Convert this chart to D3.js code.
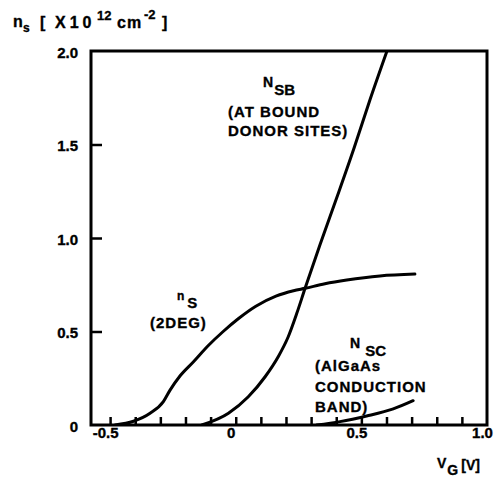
<!DOCTYPE html>
<html>
<head>
<meta charset="utf-8">
<script src="https://cdn.jsdelivr.net/npm/d3@7"></script>
<style>
  body { margin: 0; background: #fff; }
  svg { display: block; }
  text { font-family: "Liberation Sans", Arial, sans-serif; font-weight: bold; fill: #000; stroke: #000; stroke-width: 0.35; }
</style>
</head>
<body>
<div id="chart"></div>
<script>
// values: [V_G in volts, n in 1e12 cm^-2]
const ns2deg = [
  [-0.480, 0], [-0.407, 0.02], [-0.341, 0.063], [-0.288, 0.125], [-0.262, 0.185],
  [-0.222, 0.262], [-0.169, 0.337], [-0.109, 0.425], [-0.050, 0.5], [0.010, 0.568],
  [0.080, 0.635], [0.160, 0.689], [0.230, 0.718], [0.276, 0.731], [0.355, 0.755],
  [0.442, 0.775], [0.574, 0.797], [0.713, 0.807]
];
const nsbDonor = [
  [-0.135, 0], [-0.029, 0.063], [0.050, 0.151], [0.117, 0.258], [0.169, 0.365],
  [0.209, 0.472], [0.243, 0.597], [0.276, 0.731], [0.335, 0.963], [0.403, 1.219],
  [0.471, 1.481], [0.534, 1.738], [0.602, 2.0]
];
const nscBand = [
  [0.322, 0], [0.415, 0.018], [0.521, 0.048], [0.627, 0.086], [0.706, 0.13]
];
const xMinorTicks = [-0.5, -0.4, -0.3, -0.2, -0.1, 0, 0.1, 0.2, 0.3, 0.4, 0.5, 0.6, 0.7, 0.8, 0.9];
const xLabelTicks = [-0.5, 0, 0.5, 1.0];
const xLabels = ["-0.5", "0", "0.5", "1.0"];
const yTicks = [0.5, 1.0, 1.5];
const yLabelTicks = [0, 0.5, 1.0, 1.5, 2.0];
const yLabels = ["0", "0.5", "1.0", "1.5", "2.0"];

const svg = d3.select("#chart")
    .append("svg")
    .attr("width", 501)
    .attr("height", 477);

const x = d3.scaleLinear().domain([-0.576, 1.0]).range([91, 487]);
const y = d3.scaleLinear().domain([0, 2]).range([425, 51]);

svg.append("clipPath").attr("id", "plot-clip")
    .append("rect")
    .attr("x", x(-0.576)).attr("y", y(2))
    .attr("width", x(1.0) - x(-0.576)).attr("height", y(0) - y(2));

// inward ticks
const xTickAxis = svg.append("g")
    .attr("transform", `translate(0,${y(0)})`)
    .call(d3.axisBottom(x).tickValues(xMinorTicks).tickSize(-8).tickFormat(""));
xTickAxis.select(".domain").remove();
xTickAxis.selectAll("line").attr("stroke-width", 2.5);

const yTickAxis = svg.append("g")
    .attr("transform", `translate(${x(-0.576)},0)`)
    .call(d3.axisLeft(y).tickValues(yTicks).tickSize(-11).tickFormat(""));
yTickAxis.select(".domain").remove();
yTickAxis.selectAll("line").attr("stroke-width", 2.5);

// tick labels
const xLab = svg.append("g")
    .attr("transform", `translate(0,${y(0)})`)
    .call(d3.axisBottom(x).tickValues(xLabelTicks).tickSize(0).tickPadding(2)
        .tickFormat((d, i) => xLabels[i]));
xLab.select(".domain").remove();
xLab.selectAll("text")
    .attr("font-size", 15)
    .attr("dx", -5)
    .style("font-family", "'Liberation Sans', Arial, sans-serif")
    .style("font-weight", "bold");

const yLab = svg.append("g")
    .attr("transform", `translate(78,0)`)
    .call(d3.axisLeft(y).tickValues(yLabelTicks).tickSize(0).tickPadding(0)
        .tickFormat((d, i) => yLabels[i]));
yLab.select(".domain").remove();
yLab.selectAll("text")
    .attr("font-size", 15)
    .attr("dy", "0.4em")
    .style("font-family", "'Liberation Sans', Arial, sans-serif")
    .style("font-weight", "bold");

// frame
svg.append("rect")
    .attr("x", x(-0.576)).attr("y", y(2))
    .attr("width", x(1.0) - x(-0.576)).attr("height", y(0) - y(2))
    .attr("fill", "none")
    .attr("stroke", "#000")
    .attr("stroke-width", 3);

// curves
const line = d3.line()
    .x(d => x(d[0]))
    .y(d => y(d[1]))
    .curve(d3.curveMonotoneX);

[ns2deg, nsbDonor, nscBand].forEach(series => {
    svg.append("path")
        .datum(series)
        .attr("clip-path", "url(#plot-clip)")
        .attr("fill", "none")
        .attr("stroke", "#000")
        .attr("stroke-width", 3)
        .attr("stroke-linecap", "round")
        .attr("d", line);
});

// y axis title
const title = svg.append("text").attr("y", 28).attr("font-size", 16);
title.append("tspan").attr("x", 13).attr("y", 27).text("n");
title.append("tspan").attr("x", 23).attr("y", 32).attr("font-size", 12).text("s");
title.append("tspan").attr("x", 40).attr("y", 28).text("[");
title.append("tspan").attr("x", 55).attr("y", 28).attr("letter-spacing", 4).text("X10");
title.append("tspan").attr("x", 97).attr("y", 20).attr("font-size", 13).text("12");
title.append("tspan").attr("x", 117).attr("y", 28).attr("letter-spacing", 1).text("cm");
title.append("tspan").attr("x", 144).attr("y", 19).attr("font-size", 13).text("-2");
title.append("tspan").attr("x", 162).attr("y", 28).text("]");

// x axis title
const xt = svg.append("text").attr("x", 437).attr("y", 468).attr("font-size", 14);
xt.append("tspan").text("V");
xt.append("tspan").attr("dy", 7).attr("dx", 1).text("G");
xt.append("tspan").attr("dy", -5).attr("dx", 3).text("[V]");

// curve labels
function label(px, py, lines, gap) {
    const t = svg.append("text")
        .attr("x", px).attr("y", py)
        .attr("font-size", 15)
        .attr("letter-spacing", 1);
    lines.forEach((s, i) => {
        t.append("tspan").attr("x", px).attr("dy", i === 0 ? 0 : gap).text(s);
    });
}

const nsb = svg.append("text").attr("x", 263).attr("y", 87).attr("font-size", 14);
nsb.append("tspan").text("N");
nsb.append("tspan").attr("dy", 8).attr("dx", 1).attr("font-size", 15).text("SB");
label(228, 117, ["(AT BOUND", "DONOR SITES)"], 19);

const ns = svg.append("text").attr("x", 177).attr("y", 300).attr("font-size", 12);
ns.append("tspan").text("n");
ns.append("tspan").attr("dy", 8).attr("dx", 3).attr("font-size", 15).text("S");
label(150, 328, ["(2DEG)"], 19);

const nsc = svg.append("text").attr("x", 350).attr("y", 348).attr("font-size", 14);
nsc.append("tspan").text("N");
nsc.append("tspan").attr("dy", 8).attr("dx", 5).attr("font-size", 15).text("SC");
label(315, 371, ["(AlGaAs", "CONDUCTION", "BAND)"], 20.5);
</script>
</body>
</html>
